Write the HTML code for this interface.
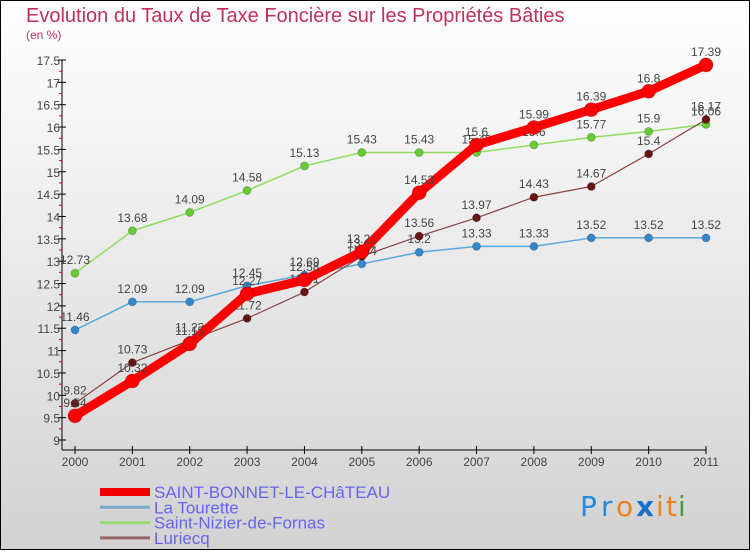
<!DOCTYPE html>
<html><head><meta charset="utf-8"><style>
body{margin:0}
#c{width:750px;height:550px;position:relative;font-family:"Liberation Sans Narrow","Liberation Sans",sans-serif}
</style></head><body>
<div id="c">
<svg id="s" width="750" height="550" xmlns="http://www.w3.org/2000/svg">
<defs><linearGradient id="bg" x1="0" y1="0" x2="0" y2="1"><stop offset="0" stop-color="#ffffff"/><stop offset="1" stop-color="#d2d2d2"/></linearGradient></defs>
<rect x="0.5" y="0.5" width="749" height="549" fill="url(#bg)" stroke="#000"/>
<text x="26" y="22" font-size="20" fill="#c0305a">Evolution du Taux de Taxe Foncière sur les Propriétés Bâties</text>
<text x="26" y="39" font-size="12" fill="#c0305a">(en %)</text>
<g id="axes"></g><g id="series"></g><g id="legend"></g>
<g font-size="28" font-family="DejaVu Sans, sans-serif">
<text x="580" y="516" fill="#2a8ad8">P</text><text x="601" y="516" fill="#2a8ad8">r</text><text x="616" y="516" fill="#f08020">o</text><text x="636" y="516" fill="#1a70c8" font-weight="bold">x</text><text x="656" y="516" fill="#f08020">i</text><text x="666" y="516" fill="#f08020">t</text><text x="678" y="516" fill="#40a040">i</text>
</g>
</svg></div>
<script>
const years=[2000,2001,2002,2003,2004,2005,2006,2007,2008,2009,2010,2011];
const yTicks=[9,9.5,10,10.5,11,11.5,12,12.5,13,13.5,14,14.5,15,15.5,16,16.5,17,17.5];
const yTickLabels=["9","9.5","10","10.5","11","11.5","12","12.5","13","13.5","14","14.5","15","15.5","16","16.5","17","17.5"];
const seriesNames=["SAINT-BONNET-LE-CHâTEAU","La Tourette","Saint-Nizier-de-Fornas","Luriecq"];
const stBonnet=[9.54,10.32,11.15,12.27,12.58,13.21,14.53,15.6,15.99,16.39,16.8,17.39];
const laTourette=[11.46,12.09,12.09,12.45,12.69,12.94,13.2,13.33,13.33,13.52,13.52,13.52];
const stNizier=[12.73,13.68,14.09,14.58,15.13,15.43,15.43,15.43,15.6,15.77,15.9,16.06];
const luriecq=[9.82,10.73,11.23,11.72,12.31,13.11,13.56,13.97,14.43,14.67,15.4,16.17];
const NS="http://www.w3.org/2000/svg";
const x=i=>75+i*(706-75)/(years.length-1);
const y=v=>440-(v-9)*(380/8.5);
function mk(p,t,a){const e=document.createElementNS(NS,t);for(const k in a)e.setAttribute(k,a[k]);p.appendChild(e);return e;}
const ax=document.getElementById('axes');
let l=mk(ax,'line',{x1:62,y1:y(17.5),x2:62,y2:450,stroke:'#000'});

l=mk(ax,'line',{x1:62,y1:450,x2:x(11),y2:450,stroke:'#000'});

yTicks.forEach((v,i)=>{
 mk(ax,'line',{x1:58,y1:y(v),x2:66,y2:y(v),stroke:'#000'});
 if(i<yTicks.length-1)mk(ax,'line',{x1:59,y1:y(v+0.25),x2:62,y2:y(v+0.25),stroke:'#e00000'});
 const t=mk(ax,'text',{x:60,y:y(v)+5,'font-size':12,fill:'#444','text-anchor':'end'});t.textContent=yTickLabels[i];
 
});
years.forEach((yr,i)=>{
 mk(ax,'line',{x1:x(i),y1:446,x2:x(i),y2:454,stroke:'#000'});
 const t=mk(ax,'text',{x:x(i),y:466,'font-size':12,fill:'#444','text-anchor':'middle'});t.textContent=yr;
 
});
const sg=document.getElementById('series');
const defs=[[laTourette,'#5aa8dc','#3388cc',1.5,4,'la-tourette'],[stNizier,'#8fdc60','#66cc33',1.5,4,'saint-nizier-de-fornas'],[luriecq,'#884444','#661515',1.2,4,'luriecq'],[stBonnet,'#ff0000','#ff0000',9,7,'saint-bonnet-le-chateau']];
defs.forEach(d=>{
 const g=mk(sg,'g',{});
 
 const p=mk(g,'polyline',{points:d[0].map((v,i)=>x(i)+','+y(v)).join(' '),fill:'none',stroke:d[1],'stroke-width':d[3],'stroke-linejoin':'round'});
 
 d[0].forEach((v,i)=>{
  const c=mk(g,'circle',{cx:x(i),cy:y(v),r:d[4],fill:d[2],stroke:'rgba(0,0,0,0.25)','stroke-width':0.8});
  
  const t=mk(g,'text',{x:x(i),y:y(v)-9,'font-size':12,fill:'#444','text-anchor':'middle'});t.textContent=v;
  
 });
});
const lg=document.getElementById('legend');
const lc=['#ee0000','#7aaacc','#99dd77','#996666'],lw=[8,3,3,3];
seriesNames.forEach((n,i)=>{
 const yy=492+i*15.3;
 const g=mk(lg,'g',{});
 
 mk(g,'line',{x1:100,y1:yy,x2:150,y2:yy,stroke:lc[i],'stroke-width':lw[i]});
 const t=mk(g,'text',{x:154,y:yy+6,'font-size':17,fill:'#6666ee'});t.textContent=n;
});
</script></body></html>
